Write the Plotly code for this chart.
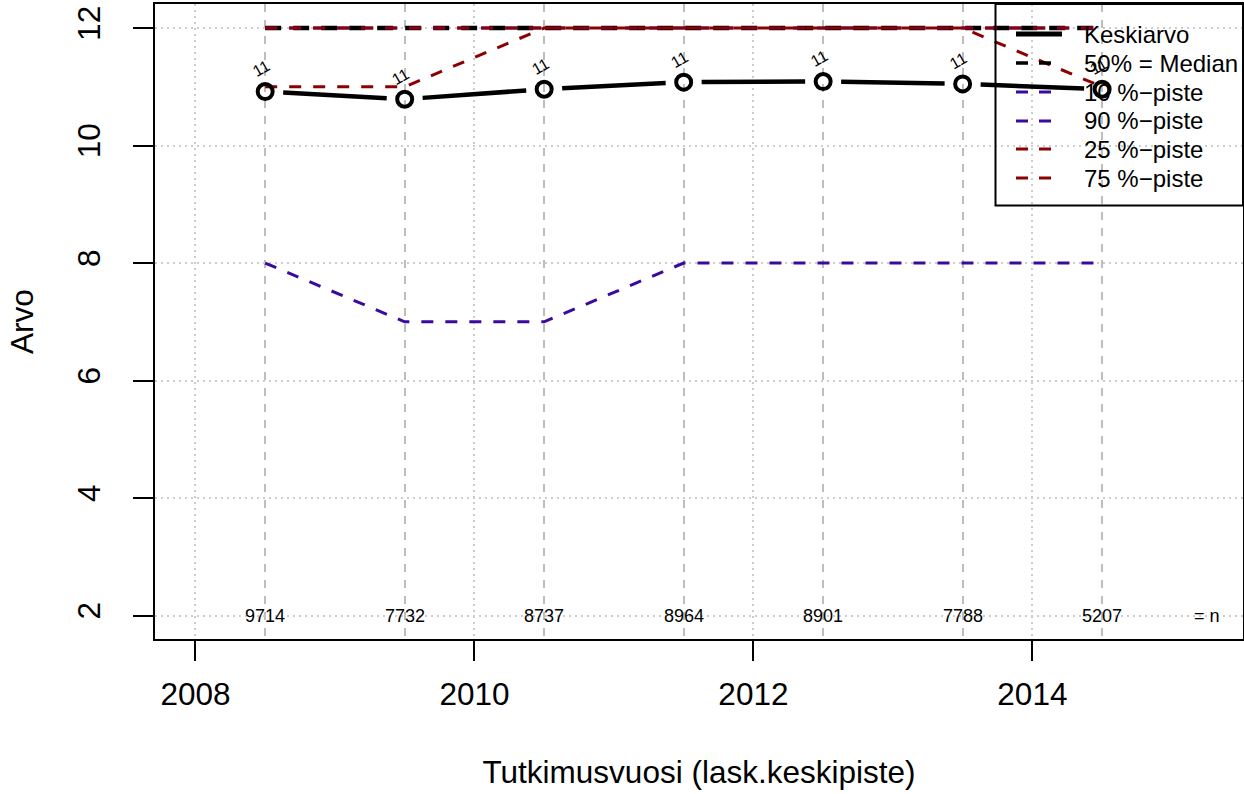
import math
import plotly.graph_objects as go

# ---------------- data ----------------
years = [2008.5, 2009.5, 2010.5, 2011.5, 2012.5, 2013.5, 2014.5]
mean_vals = [10.92, 10.79, 10.96, 11.08, 11.09, 11.05, 10.96]
median_vals = [12, 12, 12, 12, 12, 12, 12]
p10_vals = [8, 7, 7, 8, 8, 8, 8]
p90_vals = [12, 12, 12, 12, 12, 12, 12]
p25_vals = [11, 11, 12, 12, 12, 12, 11]
p75_vals = [12, 12, 12, 12, 12, 12, 12]
point_labels = ["11", "11", "11", "11", "11", "11", "11"]
n_labels = ["9714", "7732", "8737", "8964", "8901", "7788", "5207"]
n_suffix_x = 2015.25
x_ticks = [2008, 2010, 2012, 2014]
y_ticks = [2, 4, 6, 8, 10, 12]
legend_names = ["Keskiarvo", "50% = Median", "10 %\u2212piste", "90 %\u2212piste",
                "25 %\u2212piste", "75 %\u2212piste"]

# ---------------- layout constants ----------------
W, H = 1244, 794
ML, MR, MT, MB = 155, 1, 4, 155
XR = [2007.71, 2015.51]
YR = [1.6, 12.41]
FONT = "Liberation Sans, Arial, Helvetica, sans-serif"
BLUE = "#3a0a9e"
RED = "#8b0000"

plot_w = W - ML - MR
plot_h = H - MT - MB
sx = plot_w / (XR[1] - XR[0])
sy = plot_h / (YR[1] - YR[0])

# mean line with gaps around the points (like R type="b")
gap = 18
seg_x, seg_y = [], []
for i in range(len(years) - 1):
    ddx = years[i + 1] - years[i]
    ddy = mean_vals[i + 1] - mean_vals[i]
    L = math.hypot(ddx * sx, ddy * sy)
    f = gap / L
    seg_x += [years[i] + f * ddx, years[i + 1] - f * ddx, None]
    seg_y += [mean_vals[i] + f * ddy, mean_vals[i + 1] - f * ddy, None]

fig = go.Figure()
fig.add_trace(go.Scatter(x=seg_x, y=seg_y, mode="lines", name=legend_names[0],
                         line=dict(color="black", width=4.5), showlegend=False))
fig.add_trace(go.Scatter(x=years, y=median_vals, mode="lines", name=legend_names[1],
                         line=dict(color="black", width=4.5, dash="16px,12px"), showlegend=False))
fig.add_trace(go.Scatter(x=years, y=p10_vals, mode="lines", name=legend_names[2],
                         line=dict(color=BLUE, width=3, dash="12px,12px"), showlegend=False))
fig.add_trace(go.Scatter(x=years, y=p90_vals, mode="lines", name=legend_names[3],
                         line=dict(color=BLUE, width=3, dash="12px,12px"), showlegend=False))
fig.add_trace(go.Scatter(x=years, y=p25_vals, mode="lines", name=legend_names[4],
                         line=dict(color=RED, width=3, dash="12px,12px"), showlegend=False))
fig.add_trace(go.Scatter(x=years, y=p75_vals, mode="lines", name=legend_names[5],
                         line=dict(color=RED, width=3, dash="12px,12px"), showlegend=False))
fig.add_trace(go.Scatter(x=years, y=mean_vals, mode="markers", showlegend=False,
                         marker=dict(symbol="circle-open", size=15, color="black",
                                     line=dict(color="black", width=4))))

# labels above points
for xv, yv, t in zip(years, mean_vals, point_labels):
    fig.add_annotation(x=xv, y=yv, text=t, showarrow=False, textangle=-30,
                       xshift=-4, yshift=23, font=dict(family=FONT, size=16, color="black"))
# n labels
for xv, t in zip(years, n_labels):
    fig.add_annotation(x=xv, y=2, text=t, showarrow=False,
                       font=dict(family=FONT, size=18, color="black"))
fig.add_annotation(x=n_suffix_x, y=2, text="= n", showarrow=False,
                   font=dict(family=FONT, size=18, color="black"))

# manual legend (R style, transparent box)
def px2paper_x(p):
    return (p - ML) / plot_w

def px2paper_y(p):
    return (H - MB - p) / plot_h

fig.add_shape(type="rect", xref="paper", yref="paper",
              x0=px2paper_x(995.5), x1=1, y0=px2paper_y(205.5), y1=1,
              line=dict(color="black", width=2), fillcolor="rgba(0,0,0,0)")
leg_rows = [34, 63, 92, 121, 149, 178]
leg_styles = [("black", 5, "solid", 1062), ("black", 3.5, "12px,11px", 1052),
              (BLUE, 3, "12px,11px", 1052), (BLUE, 3, "12px,11px", 1052),
              (RED, 3, "12px,11px", 1052), (RED, 3, "12px,11px", 1052)]
for name, ry, (c, w, d, xe) in zip(legend_names, leg_rows, leg_styles):
    fig.add_shape(type="line", xref="paper", yref="paper",
                  x0=px2paper_x(1016), x1=px2paper_x(xe),
                  y0=px2paper_y(ry), y1=px2paper_y(ry),
                  line=dict(color=c, width=w, dash=d))
    fig.add_annotation(xref="paper", yref="paper", x=px2paper_x(1082),
                       y=px2paper_y(ry), xanchor="left", yanchor="middle",
                       text=name, showarrow=False,
                       font=dict(family=FONT, size=24, color="black"))

fig.update_layout(
    width=W, height=H,
    margin=dict(l=ML, r=MR, t=MT, b=MB, autoexpand=False),
    paper_bgcolor="white", plot_bgcolor="white",
    font=dict(family=FONT, color="black"),
    showlegend=False,
)
fig.update_xaxes(
    range=XR, tickmode="array", tickvals=x_ticks, ticktext=[str(v) for v in x_ticks],
    automargin=False,
    ticks="outside", ticklen=20, tickwidth=2, tickcolor="black",
    tickfont=dict(family=FONT, size=31.5), ticklabelstandoff=6,
    showline=True, mirror=True, linecolor="black", linewidth=2,
    showgrid=True, gridcolor="#cccccc", gridwidth=1.5, griddash="2px,4px",
    minor=dict(tickmode="array", tickvals=years, showgrid=True,
               gridcolor="#bdbdbd", gridwidth=1.5, griddash="8px,8px", ticks=""),
    zeroline=False,
    title=dict(text="Tutkimusvuosi (lask.keskipiste)", font=dict(family=FONT, size=31.5), standoff=50),
)
fig.update_yaxes(
    range=YR, tickmode="array", tickvals=y_ticks, ticktext=[str(v) for v in y_ticks],
    automargin=False,
    tickangle=-90,
    ticks="outside", ticklen=20, tickwidth=2, tickcolor="black",
    tickfont=dict(family=FONT, size=31.5), ticklabelstandoff=20,
    showline=True, mirror=True, linecolor="black", linewidth=2,
    showgrid=True, gridcolor="#cccccc", gridwidth=1.5, griddash="2px,4px",
    zeroline=False,
    title=dict(text="Arvo", font=dict(family=FONT, size=31.5), standoff=28),
)

fig.write_html("out.html", config={"displayModeBar": False},
               post_script="document.body.style.margin='0';")
